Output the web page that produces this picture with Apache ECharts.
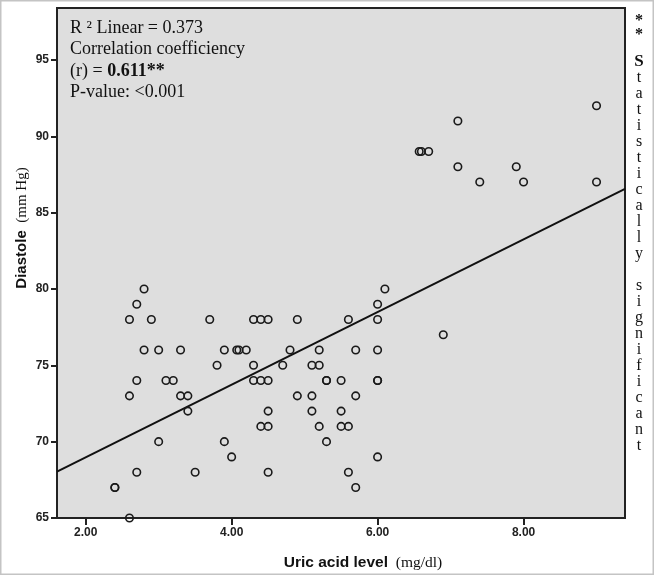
<!DOCTYPE html>
<html>
<head>
<meta charset="utf-8">
<script src="https://cdn.jsdelivr.net/npm/echarts@6/dist/echarts.min.js"></script>
<style>html,body{margin:0;padding:0;background:#fff;}#c{width:654px;height:575px;}</style>
</head>
<body>
<div id="c"></div>
<script>
// Uric acid level (mg/dl) and Diastole (mm Hg), one entry per subject
const uric = [2.4,2.4, 2.6,2.6,2.6, 2.7,2.7,2.7, 2.8,2.8, 2.9, 3.0,3.0, 3.1, 3.2, 3.3,3.3, 3.4,3.4, 3.5, 3.7, 3.8, 3.9,3.9, 4.0, 4.07,4.1, 4.2, 4.3,4.3,4.3, 4.4,4.4,4.4, 4.5,4.5,4.5,4.5,4.5, 4.7, 4.8, 4.9,4.9, 5.1,5.1,5.1, 5.2,5.2,5.2, 5.3,5.3,5.3, 5.5,5.5,5.5, 5.6,5.6,5.6, 5.7,5.7,5.7, 6.0,6.0,6.0,6.0,6.0,6.0, 6.1, 6.57,6.6, 6.7, 6.9, 7.1,7.1, 7.4, 7.9, 8.0, 9.0,9.0];
const diastole = [67,67, 65,73,78, 68,74,79, 76,80, 78, 70,76, 74, 74, 73,76, 72,73, 68, 78, 75, 70,76, 69, 76,76, 76, 74,75,78, 71,74,78, 68,71,72,74,78, 75, 76, 73,78, 72,73,75, 71,75,76, 70,74,74, 71,72,74, 68,71,78, 67,73,76, 69,74,74,76,78,79, 80, 89,89, 89, 77, 88,91, 87, 88, 87, 87,92];
const xTicks = [2, 4, 6, 8];
const yTicks = [65, 70, 75, 80, 85, 90, 95];
const xRange = [1.607, 9.39];
const yRange = [65, 98.4];
const fitIntercept = 64.22;
const fitSlope = 2.378;
const statLines = ['R \u00b2 Linear = 0.373', 'Correlation coefficiency', '(r) = ', '0.611**', 'P-value: <0.001'];

const points = uric.map((u, i) => [u, diastole[i]]);
const fitLine = xRange.map(x => [x, fitIntercept + fitSlope * x]);

const chart = echarts.init(document.getElementById('c'), null, {renderer: 'canvas'});
const sans = 'Liberation Sans, Arial, sans-serif';
const serif = 'Liberation Serif, Times New Roman, serif';

const rightText = '{b|S}\n' + 'tatistically'.split('').join('\n') + '\n\n' + 'significant'.split('').join('\n');

chart.setOption({
  animation: false,
  backgroundColor: '#ffffff',
  grid: {left: 57, right: 29, top: 8, bottom: 57, show: true, backgroundColor: '#dedede', borderColor: '#222', borderWidth: 2},
  xAxis: {
    type: 'value', min: xRange[0], max: xRange[1],
    splitLine: {show: false},
    axisLine: {show: false},
    axisTick: {show: true, inside: false, length: 7, lineStyle: {color: '#222', width: 2}, customValues: xTicks},
    axisLabel: {customValues: xTicks, formatter: v => v.toFixed(2), color: '#222', fontFamily: sans, fontWeight: 'bold', fontSize: 12, margin: 9}
  },
  yAxis: {
    type: 'value', min: yRange[0], max: yRange[1],
    splitLine: {show: false},
    axisLine: {show: false},
    axisTick: {show: true, inside: false, length: 6, lineStyle: {color: '#222', width: 2}, customValues: yTicks},
    axisLabel: {customValues: yTicks, color: '#222', fontFamily: sans, fontWeight: 'bold', fontSize: 12, margin: 8}
  },
  series: [
    {
      type: 'scatter', data: points, symbol: 'circle', symbolSize: 7.5,
      itemStyle: {color: 'rgba(0,0,0,0)', borderColor: '#1a1a1a', borderWidth: 1.6, opacity: 1},
      z: 3
    },
    {
      type: 'line', data: fitLine, symbol: 'none', lineStyle: {color: '#111', width: 2}, z: 2, silent: true
    }
  ],
  graphic: [
    {type: 'rect', shape: {x: 0.75, y: 0.75, width: 652.5, height: 573.5}, style: {fill: 'none', stroke: '#c4c4c4', lineWidth: 1.5}, silent: true},
    {type: 'text', left: 70, top: 19, style: {
      text: '{a|' + statLines[0] + '}\n{a|' + statLines[1] + '}\n{a|' + statLines[2] + '}{b|' + statLines[3] + '}\n{a|' + statLines[4] + '}',
      rich: {
        a: {fontFamily: serif, fontSize: 18, lineHeight: 21.5, fill: '#111'},
        b: {fontFamily: serif, fontSize: 18, fontWeight: 'bold', lineHeight: 21.5, fill: '#111'}
      }
    }},
    {type: 'text', x: 22, y: 228, rotation: Math.PI / 2, style: {
      text: '{b|Diastole}{s|  (mm Hg)}', align: 'center', verticalAlign: 'middle',
      rich: {
        b: {fontFamily: sans, fontSize: 15, fontWeight: 'bold', fill: '#111'},
        s: {fontFamily: serif, fontSize: 15, fill: '#111'}
      }
    }},
    {type: 'text', x: 363, y: 563, style: {
      text: '{b|Uric acid level}{s|  (mg/dl)}', align: 'center', verticalAlign: 'middle',
      rich: {
        b: {fontFamily: sans, fontSize: 15.5, fontWeight: 'bold', fill: '#111'},
        s: {fontFamily: serif, fontSize: 15.5, fill: '#111'}
      }
    }},
    {type: 'text', x: 639, y: 14, style: {
      text: '*\n*', align: 'center', fontFamily: serif, fontSize: 16, fontWeight: 'bold', lineHeight: 14, fill: '#111'
    }},
    {type: 'text', x: 639, y: 54, style: {
      text: rightText, align: 'center', fontFamily: serif, fontSize: 16, lineHeight: 16, fill: '#111',
      rich: {b: {fontFamily: serif, fontSize: 17, fontWeight: 'bold', lineHeight: 16, fill: '#111'}}
    }}
  ]
});
</script>
</body>
</html>
